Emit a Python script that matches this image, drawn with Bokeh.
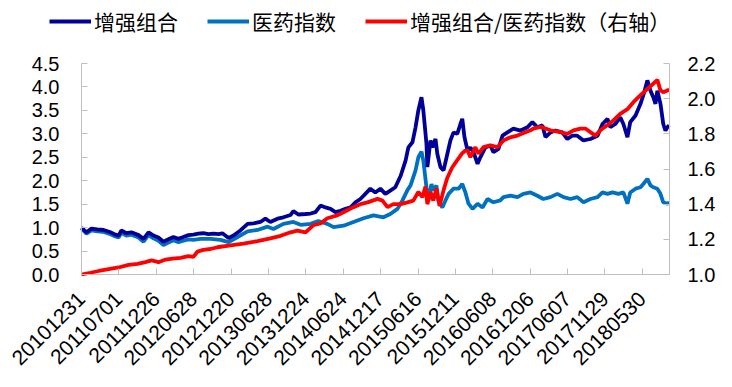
import math
from bokeh.plotting import figure
from bokeh.models import Range1d, LinearAxis, FixedTicker, Legend, LegendItem, NumeralTickFormatter
from bokeh.embed import file_html
from bokeh.resources import INLINE

# x = trading-day index since 2010-12-31; one tick label every 120 trading days
tick_idx = [0, 120, 240, 360, 480, 600, 720, 840, 960, 1080, 1200, 1320, 1440, 1560, 1680, 1800]
tick_labels = ["20101231", "20110701", "20111226", "20120628", "20121220", "20130628",
               "20131224", "20140624", "20141217", "20150616", "20151211", "20160608",
               "20161206", "20170607", "20171129", "20180530"]

left_ticks = [0.0, 0.5, 1.0, 1.5, 2.0, 2.5, 3.0, 3.5, 4.0, 4.5]
right_ticks = [1.0, 1.2, 1.4, 1.6, 1.8, 2.0, 2.2]

series_names = ["增强组合", "医药指数", "增强组合/医药指数（右轴）"]

# 增强组合 (left axis)
dark_x = [0, 16, 32, 51, 71, 93, 109, 119, 128, 144, 160, 183, 199, 215, 231, 247, 263, 279, 295, 311,
          327, 343, 359, 375, 391, 407, 424, 440, 452, 472, 488, 510, 533, 552, 574, 590, 606, 629, 648, 671,
          680, 696, 719, 735, 751, 767, 783, 799, 815, 831, 847, 863, 879, 895, 911, 927, 943, 959, 975, 991,
          1007, 1024, 1040, 1049, 1062, 1072, 1081, 1091, 1097, 1107, 1110, 1120, 1126, 1136, 1142, 1152, 1162,
          1174, 1184, 1194, 1206, 1216, 1222, 1229, 1239, 1248, 1258, 1271, 1280, 1296, 1312, 1322, 1338, 1351,
          1367, 1386, 1409, 1431, 1447, 1463, 1479, 1489, 1505, 1521, 1543, 1559, 1575, 1591, 1611, 1633, 1656,
          1672, 1688, 1697, 1713, 1729, 1739, 1752, 1761, 1778, 1794, 1806, 1816, 1826, 1835, 1842, 1848, 1858,
          1867, 1874, 1880, 1886]
dark_y = [1.00, 0.90, 0.98, 0.96, 0.95, 0.90, 0.85, 0.83, 0.94, 0.88, 0.90, 0.84, 0.76, 0.90, 0.83, 0.79, 0.70, 0.75, 0.80, 0.76,
          0.80, 0.84, 0.85, 0.87, 0.88, 0.86, 0.87, 0.86, 0.88, 0.78, 0.83, 0.94, 1.08, 1.09, 1.12, 1.19, 1.12, 1.19, 1.22, 1.27,
          1.35, 1.28, 1.29, 1.30, 1.33, 1.47, 1.43, 1.40, 1.33, 1.36, 1.40, 1.43, 1.54, 1.61, 1.72, 1.83, 1.75, 1.83, 1.72, 1.79,
          1.86, 2.10, 2.43, 2.71, 2.82, 3.14, 3.50, 3.78, 3.50, 2.79, 2.29, 2.86, 2.71, 2.89, 2.57, 2.29, 2.22,
          2.57, 2.86, 3.03, 3.00, 3.21, 3.32, 2.93, 2.64, 2.71, 2.61, 2.36, 2.50, 2.71, 2.75, 2.61, 2.68, 2.96,
          3.03, 3.11, 3.07, 3.14, 3.25, 3.14, 3.18, 2.93, 3.03, 3.07, 3.03, 2.89, 2.96, 2.96, 2.86, 2.89, 2.96,
          3.21, 3.32, 3.14, 3.21, 3.35, 3.21, 2.93, 3.25, 3.39, 3.64, 3.89, 4.14, 3.92, 3.78, 3.64, 3.92, 3.64,
          3.21, 3.07, 3.14, 3.18]

# 医药指数 (left axis)
light_x = [0, 16, 32, 51, 71, 93, 109, 119, 128, 144, 160, 183, 199, 215, 231, 247, 263, 279, 295, 311,
           327, 343, 359, 382, 414, 446, 472, 501, 533, 565, 597, 616, 648, 680, 703, 735, 760, 789, 809, 841,
           873, 905, 937, 969, 991, 1014, 1030, 1046, 1056, 1072, 1081, 1091, 1097, 1107, 1113, 1123, 1129, 1139,
           1145, 1158, 1168, 1178, 1194, 1210, 1222, 1232, 1242, 1255, 1271, 1287, 1303, 1322, 1344, 1354, 1376,
           1399, 1418, 1441, 1463, 1482, 1505, 1527, 1547, 1569, 1591, 1611, 1633, 1656, 1672, 1688, 1704, 1723,
           1739, 1752, 1761, 1778, 1794, 1803, 1816, 1826, 1835, 1848, 1858, 1867, 1880, 1886]
light_y = [0.98, 0.87, 0.94, 0.92, 0.91, 0.86, 0.81, 0.79, 0.89, 0.83, 0.85, 0.79, 0.70, 0.84, 0.77, 0.72, 0.63, 0.68, 0.73, 0.69,
           0.72, 0.75, 0.74, 0.76, 0.76, 0.74, 0.69, 0.80, 0.92, 0.95, 1.02, 0.97, 1.08, 1.12, 1.06, 1.08, 1.14, 1.08, 1.01, 1.04,
           1.12, 1.20, 1.26, 1.22, 1.29, 1.40, 1.58, 1.80, 1.90, 2.22, 2.50, 2.62, 2.43, 1.86, 1.58, 1.93, 1.79, 1.90,
           1.58, 1.43, 1.58, 1.72, 1.83, 1.83, 1.93, 1.75, 1.51, 1.40, 1.51, 1.43, 1.61, 1.54, 1.58, 1.65, 1.68,
           1.65, 1.72, 1.75, 1.68, 1.61, 1.65, 1.72, 1.65, 1.61, 1.65, 1.54, 1.61, 1.65, 1.75, 1.72, 1.75, 1.72,
           1.75, 1.51, 1.75, 1.83, 1.86, 1.93, 2.04, 1.90, 1.86, 1.83, 1.72, 1.54, 1.51, 1.54]

# 增强组合/医药指数 (right axis)
ratio_x = [0, 29, 55, 87, 119, 151, 180, 205, 225, 247, 270, 292, 318, 343, 359, 372, 391, 414, 436, 478,
           520, 565, 606, 639, 671, 693, 719, 744, 767, 789, 821, 847, 873, 895, 918, 950, 966, 982, 1001, 1024,
           1046, 1065, 1081, 1094, 1104, 1110, 1120, 1129, 1139, 1149, 1162, 1174, 1190, 1206, 1222, 1232, 1239,
           1248, 1264, 1274, 1290, 1312, 1335, 1354, 1376, 1399, 1441, 1450, 1473, 1489, 1505, 1537, 1559, 1579,
           1601, 1617, 1633, 1649, 1665, 1688, 1707, 1729, 1752, 1771, 1794, 1816, 1835, 1848, 1858, 1867, 1880, 1886]
ratio_y = [1.00, 1.01, 1.02, 1.03, 1.04, 1.055, 1.06, 1.07, 1.08, 1.07, 1.085, 1.09, 1.095, 1.105, 1.10, 1.13, 1.14, 1.145, 1.155, 1.165,
           1.175, 1.19, 1.205, 1.22, 1.24, 1.25, 1.24, 1.28, 1.29, 1.32, 1.336, 1.36, 1.383, 1.40, 1.41, 1.43, 1.42, 1.383, 1.40, 1.40,
           1.41, 1.42, 1.47, 1.44, 1.50, 1.40, 1.47, 1.42, 1.49, 1.39, 1.48, 1.55, 1.61, 1.65, 1.69, 1.705, 1.705,
           1.667, 1.724, 1.687, 1.724, 1.734, 1.724, 1.762, 1.78, 1.79, 1.82, 1.83, 1.84, 1.83, 1.82, 1.81, 1.80, 1.82,
           1.83, 1.83, 1.81, 1.79, 1.82, 1.85, 1.876, 1.914, 1.94, 1.98, 2.02, 2.056, 2.085, 2.107, 2.047, 2.037, 2.047, 2.05]

DARK = "#000099"
LIGHT = "#0070C0"
RED = "#FF0000"
AXIS_GRAY = "#BFBFBF"
FONT = "Liberation Sans"
LW = 3.8

# ---- layout (pixels): canvas size and where the plotting box sits inside it
W, H = 724, 379
BOX_L, BOX_R, BOX_T, BOX_B = 81, 669, 63, 274
X_END = 1887
Y_MAX = 4.5
R_MIN, R_MAX = 1.0, 2.2

# the frame spans the whole canvas (so the legend is not clipped); axes are pinned
# to the plotting box with fixed_location and bounds
sx = (BOX_R - BOX_L) / X_END
sy = (BOX_B - BOX_T) / Y_MAX
sr = (BOX_B - BOX_T) / (R_MAX - R_MIN)
x_range = Range1d(-BOX_L / sx, X_END + (W - BOX_R) / sx)
y_range = Range1d(-(H - BOX_B) / sy, Y_MAX + BOX_T / sy)
r_range = Range1d(R_MIN - (H - BOX_B) / sr, R_MAX + BOX_T / sr)

p = figure(width=W, height=H, output_backend="svg", toolbar_location=None,
           x_range=x_range, y_range=y_range,
           min_border_left=0, min_border_right=0, min_border_top=0, min_border_bottom=0)
p.outline_line_color = None
p.xgrid.visible = False
p.ygrid.visible = False
p.extra_y_ranges = {"right": r_range}

r_light = p.line(light_x, light_y, line_color=LIGHT, line_width=LW)
r_dark = p.line(dark_x, dark_y, line_color=DARK, line_width=LW)
r_red = p.line(ratio_x, ratio_y, line_color=RED, line_width=LW, y_range_name="right")

def style_axis(ax, size="20px"):
    ax.axis_line_color = AXIS_GRAY
    ax.major_tick_line_color = AXIS_GRAY
    ax.major_tick_in = 6
    ax.major_tick_out = 0
    ax.minor_tick_line_color = None
    ax.major_label_text_font = FONT
    ax.major_label_text_font_size = size
    ax.major_label_text_color = "#000000"

xa = p.xaxis[0]
xa.ticker = FixedTicker(ticks=tick_idx)
xa.major_label_overrides = {t: l for t, l in zip(tick_idx, tick_labels)}
xa.major_label_orientation = math.pi / 4
xa.major_label_standoff = 21
xa.fixed_location = 0
xa.bounds = (0, X_END)
style_axis(xa, "21px")

ya = p.yaxis[0]
ya.ticker = FixedTicker(ticks=left_ticks)
ya.formatter = NumeralTickFormatter(format="0.0")
ya.major_label_standoff = 22
ya.fixed_location = 0
ya.bounds = (0, Y_MAX)
style_axis(ya)

ra = LinearAxis(y_range_name="right", ticker=FixedTicker(ticks=right_ticks),
                formatter=NumeralTickFormatter(format="0.0"))
ra.major_label_standoff = 18
ra.fixed_location = X_END
ra.bounds = (R_MIN, R_MAX)
style_axis(ra)
p.add_layout(ra, "right")

legend = Legend(items=[LegendItem(label=n, renderers=[r]) for n, r in zip(series_names, [r_dark, r_light, r_red])],
                orientation="horizontal", location=(49, H - 36),
                glyph_width=42, glyph_height=20, label_standoff=3, spacing=29,
                padding=2, margin=0, border_line_color=None, background_fill_alpha=0,
                label_text_font="Noto Sans CJK SC", label_text_font_size="21px",
                label_text_color="#000000")
p.add_layout(legend)

open("out.html", "w").write(file_html(p, INLINE))
